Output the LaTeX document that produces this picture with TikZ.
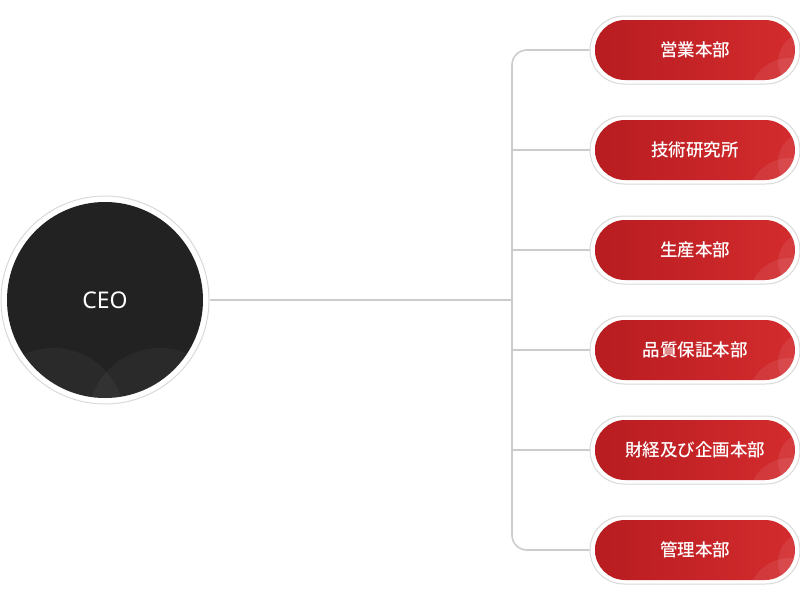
\documentclass[tikz,border=0pt]{standalone}
\usepackage{fontspec}
\setmainfont{Noto Sans}
\newfontfamily\jp{Noto Sans CJK JP Medium}
\definecolor{ringgray}{HTML}{D9D9D9}
\definecolor{conngray}{HTML}{CCCCCC}
\definecolor{ceodark}{HTML}{222222}
\definecolor{redL}{HTML}{B71C20}
\definecolor{redR}{HTML}{D42C2E}
\tikzset{
  conn/.style={draw=conngray, line width=1.6pt},
  ceobox/.style={circle, draw=ringgray, line width=1pt, fill=white, minimum size=208pt, inner sep=0pt,
    text=white, font=\fontsize{23}{23}\selectfont,
    path picture={
      \fill[ceodark] (path picture bounding box.center) circle (98pt);
      \begin{scope}
        \clip (path picture bounding box.center) circle (98pt);
        \fill[white, opacity=0.04] ([xshift=-52pt,yshift=-120pt]path picture bounding box.center) circle (72pt);
        \fill[white, opacity=0.04] ([xshift=55pt,yshift=-120pt]path picture bounding box.center) circle (72pt);
      \end{scope}
    }},
  pill/.style={draw=ringgray, line width=1pt, fill=white, rounded corners=34pt,
    minimum width=210pt, minimum height=68pt, inner sep=0pt,
    text=white, font=\jp\fontsize{17.5}{17.5}\selectfont,
    path picture={
      \shade[left color=redL, right color=redR, rounded corners=30pt]
        ([xshift=5pt,yshift=-4pt]path picture bounding box.north west) rectangle
        ([xshift=-5pt,yshift=4pt]path picture bounding box.south east);
      \begin{scope}
        \clip[rounded corners=30pt]
          ([xshift=5pt,yshift=-4pt]path picture bounding box.north west) rectangle
          ([xshift=-5pt,yshift=4pt]path picture bounding box.south east);
        \fill[white, opacity=0.08] ([xshift=8pt,yshift=-12pt]path picture bounding box.east) circle (30pt);
        \fill[white, opacity=0.08] ([xshift=-10pt,yshift=-50pt]path picture bounding box.east) circle (42pt);
      \end{scope}
    }}
}
\begin{document}
\begin{tikzpicture}[x=1pt,y=-1pt]
  \useasboundingbox (0,0) rectangle (800,600);
  \node[ceobox] (ceo) at (105,300) {CEO};
  \node[pill] (p1) at (695,50)  {営業本部};
  \node[pill] (p2) at (695,150) {技術研究所};
  \node[pill] (p3) at (695,250) {生産本部};
  \node[pill] (p4) at (695,350) {品質保証本部};
  \node[pill] (p5) at (695,450) {財経及び企画本部};
  \node[pill] (p6) at (695,550) {管理本部};
  \coordinate (trunk) at (512,300);
  \draw[conn] (ceo.east) -- (trunk);
  \draw[conn, rounded corners=15pt] (p1.west) -| (trunk) |- (p6.west);
  \foreach \p in {p2,p3,p4,p5} {
    \draw[conn] (\p.west) -- (\p.west -| trunk);
  }
\end{tikzpicture}
\end{document}
